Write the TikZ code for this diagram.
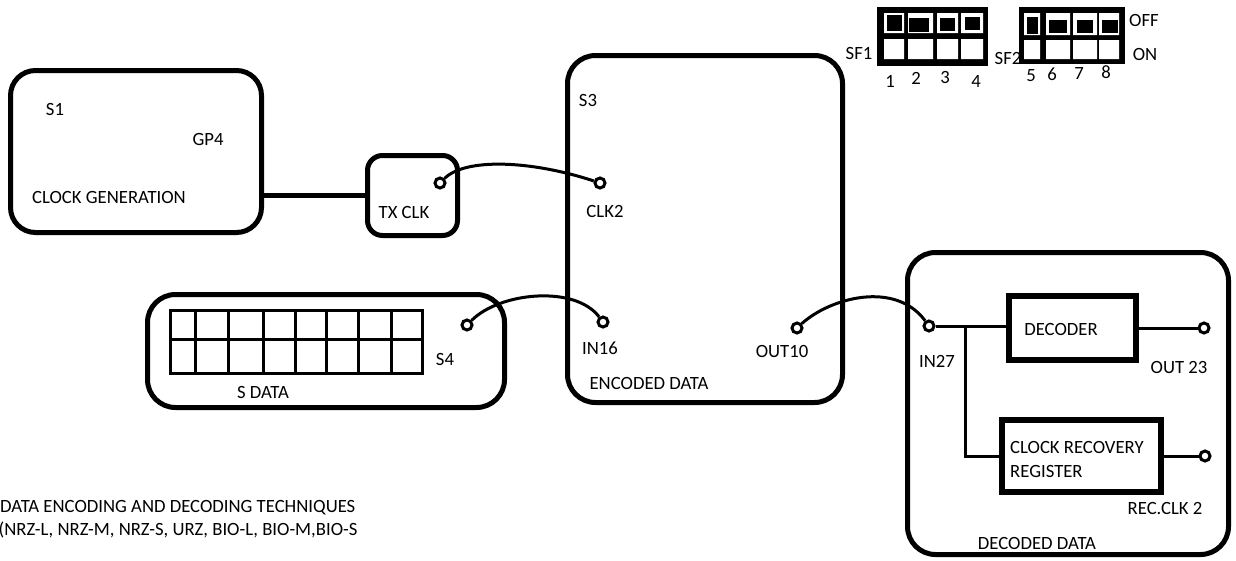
\documentclass[tikz,border=0pt]{standalone}
\usepackage{fontspec}
\setmainfont{Carlito}
\usetikzlibrary{positioning}

\begin{document}
\begin{tikzpicture}[x=1pt,y=-1pt,
  box/.style={draw,line width=5pt,rounded corners=#1,inner sep=0pt},
  box/.default=25pt,
  blk/.style={draw,line width=5.5pt,inner sep=0pt},
  term/.style={draw,circle,line width=3pt,minimum size=10pt,inner sep=0pt},
  wire/.style={line width=3pt},
  lbl/.style={inner sep=0pt,font=\fontsize{18.7}{24}\selectfont}
]
\useasboundingbox (0,0) rectangle (1236,560);

\node[box,minimum width=251pt,minimum height=162pt] (S1) at (136,151.5) {};
\node[box=15pt,minimum width=90pt,minimum height=80pt] (TX) at (412.5,195.5) {};
\node[box=28pt,minimum width=275pt,minimum height=347pt] (S3) at (705,229) {};
\node[box=28pt,minimum width=357pt,minimum height=113pt] (S4) at (326,351) {};
\node[box=28pt,minimum width=321pt,minimum height=302pt] (DD) at (1068,403.5) {};
\node[blk,minimum width=127pt,minimum height=64pt] (DEC) at (1072.5,328) {};
\node[blk,minimum width=159pt,minimum height=72pt] (CRR) at (1081.5,456) {};

\node[lbl] (s1) at (55,109) {S1};
\node[lbl] (gp4) at (208,139) {GP4};
\node[lbl] (clkgen) at (109,197) {CLOCK GENERATION};
\node[lbl] (txclk) at (404,212) {TX CLK};
\node[lbl] (s3) at (588,100) {S3};
\node[lbl] (clk2) at (605,211) {CLK2};
\node[lbl] (in16) at (600,348) {IN16};
\node[lbl] (out10) at (782,351) {OUT10};
\node[lbl] (enc) at (649,383) {ENCODED DATA};
\node[lbl] (s4) at (445,359) {S4};
\node[lbl] (sdata) at (263,392) {S DATA};
\node[lbl] (in27) at (937,361) {IN27};
\node[lbl] (dect) at (1061,329) {DECODER};
\node[lbl,align=left,anchor=west] (crrt) at (1010,459) {CLOCK RECOVERY\\REGISTER};
\node[lbl] (out23) at (1179,367) {OUT 23};
\node[lbl] (recclk) at (1165,508) {REC.CLK 2};
\node[lbl] (decd) at (1037,543) {DECODED DATA};
\node[lbl,anchor=base west] (tech1) at (0,512) {DATA ENCODING AND DECODING TECHNIQUES};
\node[lbl,anchor=base west] (tech2) at (-1.5,535) {(NRZ-L, NRZ-M, NRZ-S, URZ, BIO-L, BIO-M,BIO-S};

\node[term] (txo) at (440,183) {};
\node[term] (clki) at (600,183) {};
\node[term] (sdo) at (467,325) {};
\node[term] (in16t) at (603,322) {};
\node[term] (out10t) at (797,328) {};
\node[term] (in27t) at (929,326) {};
\node[term] (out23t) at (1204,328) {};
\node[term] (rclkt) at (1205,456) {};
\coordinate (J) at (965,326);

\draw[line width=5pt] (TX.west) -- (TX.west -| S1.east);
\draw[wire] (txo) .. controls (465,158) and (530,160) .. (clki);
\draw[wire] (sdo) .. controls (500,292) and (575,285) .. (in16t);
\draw[wire] (out10t) .. controls (830,298) and (895,280) .. (in27t);
\draw[wire] (in27t) -- (in27t -| DEC.west);
\draw[wire] (J) |- (CRR.west);
\draw[wire] (DEC.east) -- (out23t);
\draw[wire] (CRR.east) -- (rclkt);

\draw[wire] (170,310) rectangle (422,373) (170,339) -- (422,339);
\foreach \x in {195,228,263,295,326,358,391}
  \draw[wire] (\x,310) -- (\x,373);

\fill (877,7) rectangle (988,66);
\foreach \a/\b in {884/904,908/933,937/958,961/983}
  \fill[white] (\a,13) rectangle (\b,33) (\a,39) rectangle (\b,59);
\foreach \a/\b/\c/\d in {887/902/15/31,909/929/18/32,940/955/18/31,965/980/17/30}
  \fill (\a,\c) rectangle (\b,\d);
\fill (1019,7) rectangle (1125,64);
\foreach \a/\b in {1024/1040,1046/1070,1073/1097,1099/1119}
  \fill[white] (\a,13) rectangle (\b,35) (\a,40) rectangle (\b,59);
\foreach \a/\b/\c/\d in {1027/1038/17/34,1049/1067/20/33,1077/1093/20/33,1102/1118/20/33}
  \fill (\a,\c) rectangle (\b,\d);

\node[lbl] (sf1) at (859,53) {SF1};
\node[lbl] (sf2) at (1008,58) {SF2};
\node[lbl] (off) at (1144,20) {OFF};
\node[lbl] (on) at (1145,54) {ON};
\foreach \n/\x/\y in {1/890/81,2/916/78,3/945/77,4/976/81,5/1031/76,6/1052/74,7/1079/73,8/1106/72}
  \node[lbl] (num\n) at (\x,\y) {\n};
\end{tikzpicture}
\end{document}
